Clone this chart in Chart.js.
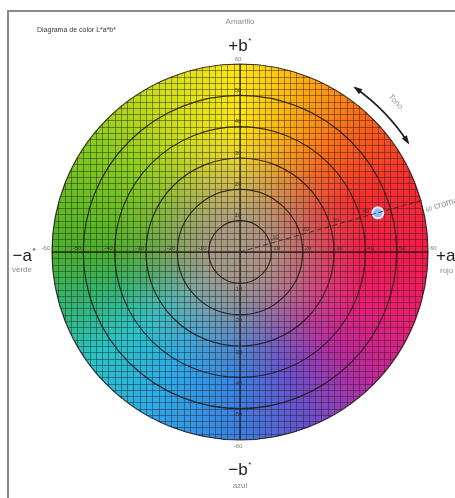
<!DOCTYPE html>
<html>
<head>
<meta charset="utf-8">
<script src="https://cdn.jsdelivr.net/npm/chart.js@4/dist/chart.umd.min.js"></script>
<style>
  html,body{margin:0;padding:0;background:#fff;}
  #wrap{position:relative;width:455px;height:498px;overflow:hidden;}
  #frame{position:absolute;left:7px;top:10px;width:460px;height:500px;border-left:2px solid #8a8a8a;border-top:2px solid #8a8a8a;box-sizing:border-box;}
  canvas{position:absolute;left:0;top:0;display:block;}
</style>
</head>
<body>
<div id="wrap">
  <div id="frame"></div>
  <canvas id="c" width="455" height="498"></canvas>
</div>
<script>
// ---- data ----
const ringRadii = [10, 20, 30, 40, 50, 60];
const axisTickValues = [-60, -50, -40, -30, -20, -10, 10, 20, 30, 40, 50, 60];
const gridStep = 2;
const sampleA = [44];
const sampleB = [12.5];
const chromaLineA = [0, 58];
const chromaLineB = [0, 16.5];
const chromaTickValues = [10, 20, 30, 40];
const hueArcDegrees = [33, 55];
const titleText = 'Diagrama de color L*a*b*';
const axisNames = { top: '+b', bottom: '\u2212b', left: '\u2212a', right: '+a' };
const axisColors = { top: 'Amarillo', bottom: 'azul', left: 'verde', right: 'rojo' };
const hueLabel = 'Tono';
const chromaLabel = 'croma';

const FONT = '"Liberation Sans", Arial, sans-serif';

const wheelPlugin = {
  id: 'wheel',
  beforeDatasetsDraw(chart) {
    const { ctx, scales: { x, y } } = chart;
    const cx = x.getPixelForValue(0), cy = y.getPixelForValue(0);
    const Rx = x.getPixelForValue(60) - cx;
    const Ry = cy - y.getPixelForValue(60);
    ctx.save();
    ctx.beginPath();
    ctx.ellipse(cx, cy, Rx, Ry, 0, 0, Math.PI * 2);
    ctx.clip();
    // hue ring
    const g = ctx.createConicGradient(0, cx, cy);
    g.addColorStop(0.00, '#f41a4a');
    g.addColorStop(0.06, '#ea1e72');
    g.addColorStop(0.125, '#bc2aa0');
    g.addColorStop(0.19, '#6a50d0');
    g.addColorStop(0.25, '#3a80e2');
    g.addColorStop(0.33, '#2caaea');
    g.addColorStop(0.40, '#28c4c8');
    g.addColorStop(0.46, '#34b468');
    g.addColorStop(0.50, '#48b02a');
    g.addColorStop(0.60, '#86cc1c');
    g.addColorStop(0.68, '#d2e016');
    g.addColorStop(0.75, '#fce612');
    g.addColorStop(0.81, '#fdaa0e');
    g.addColorStop(0.87, '#fa661a');
    g.addColorStop(0.93, '#f6302e');
    g.addColorStop(1.00, '#f41a4a');
    ctx.fillStyle = g;
    ctx.fillRect(cx - Rx, cy - Ry, Rx * 2, Ry * 2);
    // neutral centre
    ctx.save();
    ctx.translate(cx, cy);
    ctx.scale(1, Ry / Rx);
    const rg = ctx.createRadialGradient(0, 0, 0, 0, 0, Rx);
    rg.addColorStop(0.0, 'rgba(168,152,134,1)');
    rg.addColorStop(0.17, 'rgba(168,152,134,0.93)');
    rg.addColorStop(0.33, 'rgba(168,152,134,0.6)');
    rg.addColorStop(0.5, 'rgba(168,152,134,0.22)');
    rg.addColorStop(0.68, 'rgba(168,152,134,0)');
    ctx.fillStyle = rg;
    ctx.beginPath();
    ctx.arc(0, 0, Rx, 0, Math.PI * 2);
    ctx.fill();
    ctx.restore();
    // fine grid
    ctx.strokeStyle = 'rgba(40,28,28,0.45)';
    ctx.lineWidth = 1;
    ctx.beginPath();
    for (let v = -60; v <= 60; v += gridStep) {
      const px = Math.round(x.getPixelForValue(v)) + 0.5;
      const py = Math.round(y.getPixelForValue(v)) + 0.5;
      ctx.moveTo(px, cy - Ry); ctx.lineTo(px, cy + Ry);
      ctx.moveTo(cx - Rx, py); ctx.lineTo(cx + Rx, py);
    }
    ctx.stroke();
    ctx.restore();

    // rings
    ctx.save();
    ctx.strokeStyle = 'rgba(35,22,22,0.85)';
    ctx.lineWidth = 1.2;
    ringRadii.forEach(r => {
      const rx = x.getPixelForValue(r) - cx;
      const ry = cy - y.getPixelForValue(r);
      ctx.beginPath();
      ctx.ellipse(cx, cy, rx, ry, 0, 0, Math.PI * 2);
      ctx.stroke();
    });
    // main axes
    ctx.lineWidth = 1.3;
    ctx.beginPath();
    ctx.moveTo(cx, cy - Ry); ctx.lineTo(cx, cy + Ry);
    ctx.moveTo(cx - Rx, cy); ctx.lineTo(cx + Rx, cy);
    ctx.stroke();

    // tick labels on axes
    ctx.font = '6px ' + FONT;
    ctx.fillStyle = 'rgba(55,45,45,0.85)';
    axisTickValues.forEach(v => {
      const outer = Math.abs(v) === 60;
      const py = y.getPixelForValue(v);
      ctx.textAlign = 'center';
      ctx.fillStyle = outer ? 'rgba(110,110,110,0.9)' : 'rgba(55,45,45,0.85)';
      if (v > 0) {
        ctx.textBaseline = 'bottom';
        ctx.fillText(String(v), cx - 2, py - 2);
      } else {
        ctx.textBaseline = 'top';
        ctx.fillText(String(v), cx - 2, py + 3);
      }
      const px = x.getPixelForValue(v);
      ctx.textBaseline = 'bottom';
      if (v < 0) {
        ctx.textAlign = 'right';
        ctx.fillText(String(v), px - 2, cy - 1);
      } else {
        ctx.textAlign = 'left';
        ctx.fillText(String(v), px + 2, cy - 1);
      }
    });

    // chroma tick labels along the sample line
    const ang = Math.atan2(sampleB[0], sampleA[0]);
    ctx.fillStyle = 'rgba(55,45,45,0.85)';
    ctx.textAlign = 'left';
    ctx.textBaseline = 'top';
    chromaTickValues.forEach(c => {
      const px = x.getPixelForValue(c * Math.cos(ang));
      const py = y.getPixelForValue(c * Math.sin(ang));
      ctx.fillText(String(c), px + 2, py - 9);
    });
    ctx.restore();
  },
  afterDraw(chart) {
    const { ctx, scales: { x, y } } = chart;
    const cx = x.getPixelForValue(0), cy = y.getPixelForValue(0);
    const top = y.getPixelForValue(60), bottom = y.getPixelForValue(-60);
    const left = x.getPixelForValue(-60), right = x.getPixelForValue(60);
    ctx.save();
    ctx.font = '7px ' + FONT;
    ctx.fillStyle = '#3a3a3a';
    ctx.textAlign = 'left';
    ctx.textBaseline = 'middle';
    ctx.fillText(titleText, 37, 30);

    const bigName = (txt, xx, base, align) => {
      ctx.font = '17px ' + FONT;
      ctx.fillStyle = '#222';
      ctx.textBaseline = 'alphabetic';
      const w = ctx.measureText(txt).width;
      let sx = align === 'center' ? xx - w / 2 - 2 : (align === 'right' ? xx - w - 4 : xx);
      ctx.textAlign = 'left';
      ctx.fillText(txt, sx, base);
      ctx.font = '8px ' + FONT;
      ctx.fillText('*', sx + w + 0.5, base - 8);
    };
    const smallName = (txt, xx, yy, align) => {
      ctx.font = '8px ' + FONT;
      ctx.fillStyle = '#8c8c8c';
      ctx.textAlign = align;
      ctx.textBaseline = 'middle';
      ctx.fillText(txt, xx, yy);
    };
    smallName(axisColors.top, cx, top - 42, 'center');
    bigName(axisNames.top, cx, top - 13, 'center');
    bigName(axisNames.bottom, cx, bottom + 35, 'center');
    smallName(axisColors.bottom, cx, bottom + 46, 'center');
    bigName(axisNames.left, left - 16, cy + 9, 'right');
    smallName(axisColors.left, 12, cy + 18, 'left');
    bigName(axisNames.right, right + 8, cy + 9, 'left');
    smallName(axisColors.right, right + 12, cy + 19, 'left');

    // hue arc with arrows
    const rA = x.getPixelForValue(64) - cx;
    const a0 = -hueArcDegrees[1] * Math.PI / 180, a1 = -hueArcDegrees[0] * Math.PI / 180;
    ctx.strokeStyle = '#1e1e1e';
    ctx.fillStyle = '#1e1e1e';
    ctx.lineWidth = 1.6;
    ctx.beginPath();
    ctx.arc(cx, cy, rA, a0, a1);
    ctx.stroke();
    const head = (a, dir) => {
      const hx = cx + rA * Math.cos(a), hy = cy + rA * Math.sin(a);
      let tx = -Math.sin(a) * dir, ty = Math.cos(a) * dir;
      const nx = -ty, ny = tx;
      ctx.beginPath();
      ctx.moveTo(hx + tx * 2, hy + ty * 2);
      ctx.lineTo(hx - tx * 7 + nx * 3, hy - ty * 7 + ny * 3);
      ctx.lineTo(hx - tx * 7 - nx * 3, hy - ty * 7 - ny * 3);
      ctx.closePath();
      ctx.fill();
    };
    head(a0, -1);
    head(a1, 1);
    const mid = -(hueArcDegrees[0] + hueArcDegrees[1]) / 2 * Math.PI / 180;
    const rl = x.getPixelForValue(69) - cx;
    ctx.save();
    ctx.translate(cx + rl * Math.cos(mid), cy + rl * Math.sin(mid));
    ctx.rotate(mid + Math.PI / 2);
    ctx.font = '8px ' + FONT;
    ctx.fillStyle = '#9a9a9a';
    ctx.textAlign = 'center';
    ctx.textBaseline = 'middle';
    ctx.fillText(hueLabel, 0, 0);
    ctx.restore();

    // chroma label
    const ang = Math.atan2(chromaLineB[1], chromaLineA[1]);
    const ex = x.getPixelForValue(chromaLineA[1]), ey = y.getPixelForValue(chromaLineB[1]);
    ctx.save();
    ctx.translate(ex + 4, ey + 10);
    ctx.rotate(-ang);
    ctx.font = '6px ' + FONT;
    ctx.fillStyle = '#8c8c8c';
    ctx.textAlign = 'left';
    ctx.textBaseline = 'middle';
    ctx.fillText('60', 0, 0);
    ctx.font = '9px ' + FONT;
    ctx.fillText(chromaLabel, 9, -1);
    ctx.restore();
    ctx.restore();
  }
};

new Chart(document.getElementById('c'), {
  type: 'scatter',
  data: {
    datasets: [
      {
        label: 'croma',
        data: chromaLineA.map((a, i) => ({ x: a, y: chromaLineB[i] })),
        showLine: true,
        borderColor: 'rgba(50,30,30,0.75)',
        borderWidth: 1,
        borderDash: [5, 3],
        pointRadius: 0
      },
      {
        label: 'muestra',
        data: sampleA.map((a, i) => ({ x: a, y: sampleB[i] })),
        pointRadius: 5.5,
        pointBackgroundColor: '#8fc0ef',
        pointBorderColor: 'rgba(225,240,255,0.95)',
        pointBorderWidth: 2
      }
    ]
  },
  options: {
    responsive: false,
    animation: false,
    devicePixelRatio: 1,
    layout: { padding: { left: 52, right: 27, top: 64, bottom: 58 } },
    plugins: { legend: { display: false }, tooltip: { enabled: false } },
    scales: {
      x: { type: 'linear', min: -60, max: 60, display: false },
      y: { type: 'linear', min: -60, max: 60, display: false }
    }
  },
  plugins: [wheelPlugin]
});
</script>
</body>
</html>
